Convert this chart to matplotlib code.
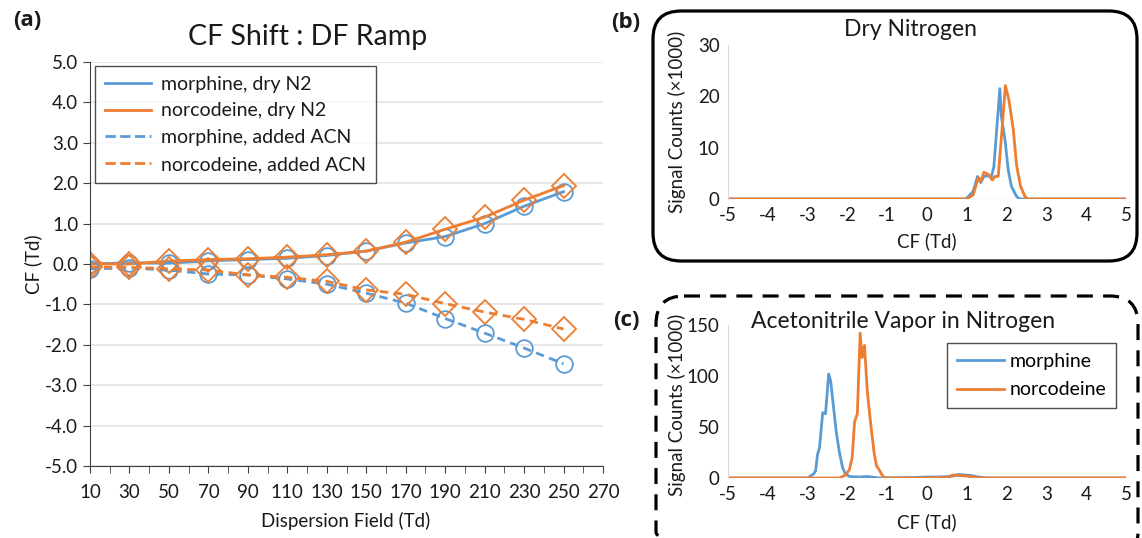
"""
CF shift vs dispersion field ramp (a), plus CF spectra in dry N2 (b)
and with acetonitrile vapor (c).
"""
import numpy as np
import matplotlib.pyplot as plt
from matplotlib.patches import FancyBboxPatch

plt.rcParams["font.family"] = ["Lato", "DejaVu Sans"]
plt.rcParams["axes.unicode_minus"] = False

BLUE = "#5B9BD5"
ORANGE = "#ED7D31"
TXT = "#1a1a1a"

# ---- panel (a) data ----
DF = [10, 30, 50, 70, 90, 110, 130, 150, 170, 190, 210, 230, 250]
MOR_DRY = [0.00, 0.03, 0.02, 0.08, 0.11, 0.14, 0.21, 0.32, 0.52, 0.68, 1.00, 1.43, 1.79]
NOR_DRY = [0.00, 0.00, 0.07, 0.11, 0.13, 0.17, 0.23, 0.32, 0.54, 0.86, 1.16, 1.58, 1.94]
MOR_ACN = [-0.12, -0.10, -0.15, -0.25, -0.27, -0.37, -0.50, -0.72, -0.97, -1.35, -1.71, -2.08, -2.47]
NOR_ACN = [-0.08, -0.08, -0.12, -0.15, -0.27, -0.33, -0.43, -0.64, -0.75, -0.98, -1.19, -1.37, -1.61]

# ---- panel (b) data: dry nitrogen spectra ----
CF_B_MOR = [-5, 0.98, 1.16, 1.27, 1.35, 1.43, 1.54, 1.62, 1.68, 1.75, 1.83,
            1.87, 1.96, 2.04, 2.12, 2.25, 2.33, 5]
SIG_B_MOR = [0, 0, 1.5, 4.4, 3.2, 4.4, 4.5, 4.4, 6.3, 13.4, 21.5,
             16.0, 11.5, 5.7, 2.5, 0.5, 0, 0]
CF_B_NOR = [-5, 1.00, 1.16, 1.29, 1.35, 1.43, 1.54, 1.64, 1.71, 1.79, 1.87,
            1.97, 2.06, 2.17, 2.25, 2.35, 2.46, 2.54, 5]
SIG_B_NOR = [0, 0, 0.8, 4.2, 3.4, 5.2, 4.8, 3.7, 4.4, 4.4, 12.1,
             22.1, 19.2, 13.4, 6.6, 2.5, 0.5, 0, 0]

# ---- panel (c) data: acetonitrile vapor spectra ----
CF_C_MOR = [-5, -3.0, -2.85, -2.8, -2.75, -2.7, -2.62, -2.55, -2.47, -2.42,
            -2.35, -2.28, -2.2, -2.12, -2.05, -1.95, -1.7, -1.5, -1.3, -1.2,
            -0.3, 0.0, 0.3, 0.6, 0.8, 0.95, 1.1, 1.3, 1.5, 5]
SIG_C_MOR = [0, 0, 4, 7, 23, 30, 64, 63, 102, 95,
             70, 45, 25, 10, 4, 1.5, 1, 1.5, 0.5, 0,
             0.5, 1, 1, 1.5, 3.5, 3, 2.5, 1, 0, 0]
CF_C_NOR = [-5, -2.2, -2.05, -1.95, -1.88, -1.82, -1.75, -1.68, -1.63, -1.57,
            -1.5, -1.42, -1.33, -1.27, -1.2, -1.1, -1.0, 0.0, 0.5, 0.65,
            0.8, 1.0, 1.2, 1.4, 5]
SIG_C_NOR = [0, 0, 3, 8, 20, 55, 63, 142, 118, 130,
             85, 55, 25, 12, 8, 1, 0, 0, 0.5, 3,
             2.5, 2, 0.5, 0, 0]

W, H = 1142, 538


def px(x, y):
    return x / W, 1 - y / H


def rect(x0, y0, x1, y1):
    return [x0 / W, 1 - y1 / H, (x1 - x0) / W, (y1 - y0) / H]


def spectrum_axes(fig, box, ymax, ystep):
    ax = fig.add_axes(box)
    ax.set_xlim(-5, 5)
    ax.set_ylim(0, ymax)
    ax.set_xticks(np.arange(-5, 6, 1))
    ax.set_yticks(np.arange(0, ymax + 1, ystep))
    for s in ["top", "right", "bottom"]:
        ax.spines[s].set_visible(False)
    ax.spines["left"].set_color("#d9d9d9")
    ax.axhline(0, color="#d9d9d9", lw=1, zorder=0)
    ax.tick_params(length=0, labelsize=13.5, colors=TXT, pad=6)
    return ax


def main():
    fig = plt.figure(figsize=(W / 100, H / 100), dpi=100)

    # ---------------- (a) ----------------
    ax = fig.add_axes(rect(90, 62, 603, 466))
    ax.set_xlim(10, 270)
    ax.set_ylim(-5, 5)
    ax.set_yticks(np.arange(-5, 5.1, 1))
    ax.set_yticklabels([f"{v:.1f}" for v in np.arange(-5, 5.1, 1)])
    ax.set_xticks(np.arange(10, 271, 20))
    ax.set_xticks(np.arange(20, 270, 20), minor=True)
    ax.grid(axis="y", color="#e3e3e3", lw=1.2)
    ax.set_axisbelow(True)
    for s in ["top", "right"]:
        ax.spines[s].set_visible(False)
    for s in ["left", "bottom"]:
        ax.spines[s].set_color("#404040")
    ax.tick_params(which="both", length=5, color="#404040", labelsize=13.5,
                   colors=TXT)
    ax.tick_params(axis="x", which="major", pad=8)

    mk = dict(markersize=12, markerfacecolor="none", markeredgewidth=1.3)
    ax.plot(DF, MOR_DRY, "-", color=BLUE, lw=2, marker="o", **mk,
            label="morphine, dry N2")
    ax.plot(DF, NOR_DRY, "-", color=ORANGE, lw=2, marker="D", **mk,
            label="norcodeine, dry N2")
    ax.plot(DF, MOR_ACN, color=BLUE, lw=2, ls=(0, (3, 2)), marker="o", **mk,
            label="morphine, added ACN")
    ax.plot(DF, NOR_ACN, color=ORANGE, lw=2, ls=(0, (3, 2)), marker="D", **mk,
            label="norcodeine, added ACN")

    h, l = ax.get_legend_handles_labels()
    proxies = [plt.Line2D([], [], color=x.get_color(), ls=x.get_linestyle(),
                          lw=2) for x in h]
    leg = ax.legend(proxies, l, loc="upper left", bbox_to_anchor=px(95, 66),
                    bbox_transform=fig.transFigure, borderaxespad=0,
                    fontsize=14, frameon=True, fancybox=False,
                    handlelength=2.4, labelspacing=0.5, borderpad=0.5,
                    handletextpad=0.5)
    leg.get_frame().set_edgecolor("#222222")
    leg.get_frame().set_linewidth(1.0)
    for t in leg.get_texts():
        t.set_color(TXT)

    fig.text(*px(308, 37), "CF Shift : DF Ramp", ha="center", va="center",
             fontsize=20.5, color=TXT)
    fig.text(*px(33, 264), "CF (Td)", ha="center", va="center",
             rotation=90, fontsize=13.5, color=TXT)
    fig.text(*px(346, 521), "Dispersion Field (Td)", ha="center",
             va="center", fontsize=13.5, color=TXT)

    # ---------------- (b) ----------------
    axb = spectrum_axes(fig, rect(728, 45, 1126, 199), 30, 10)
    axb.plot(CF_B_MOR, SIG_B_MOR, color=BLUE, lw=2)
    axb.plot(CF_B_NOR, SIG_B_NOR, color=ORANGE, lw=2)
    fig.text(*px(910, 30), "Dry Nitrogen", ha="center", va="center",
             fontsize=16.5, color=TXT)
    fig.text(*px(677, 122), "Signal Counts (\u00d71000)", ha="center",
             va="center", rotation=90, fontsize=13.5, color=TXT)
    fig.text(*px(927, 241), "CF (Td)", ha="center", va="center",
             fontsize=13.5, color=TXT)

    # ---------------- (c) ----------------
    axc = spectrum_axes(fig, rect(728, 325, 1126, 478), 150, 50)
    axc.plot(CF_C_MOR, SIG_C_MOR, color=BLUE, lw=2, label="morphine")
    axc.plot(CF_C_NOR, SIG_C_NOR, color=ORANGE, lw=2, label="norcodeine")
    legc = axc.legend(loc="upper right", bbox_to_anchor=px(1116, 343),
                      bbox_transform=fig.transFigure, borderaxespad=0,
                      fontsize=14, fancybox=False, handlelength=2.4,
                      labelspacing=0.6, borderpad=0.5, handletextpad=0.3)
    legc.get_frame().set_edgecolor("#222222")
    legc.get_frame().set_linewidth(1.0)
    fig.text(*px(903, 322), "Acetonitrile Vapor in Nitrogen", ha="center",
             va="center", fontsize=16.5, color=TXT)
    fig.text(*px(677, 405), "Signal Counts (\u00d71000)", ha="center",
             va="center", rotation=90, fontsize=13.5, color=TXT)
    fig.text(*px(927, 522), "CF (Td)", ha="center", va="center",
             fontsize=13.5, color=TXT)

    # ---------------- frames and panel letters ----------------
    over = fig.add_axes([0, 0, 1, 1], facecolor="none", zorder=-1)
    over.set_xlim(0, W)
    over.set_ylim(H, 0)
    over.axis("off")
    over.add_patch(FancyBboxPatch((653, 11), 1137 - 653, 261 - 11,
                                  boxstyle="round,pad=0,rounding_size=28",
                                  fill=False, ec="black", lw=2.3))
    over.add_patch(FancyBboxPatch((656, 296), 1138 - 656, 560 - 296,
                                  boxstyle="round,pad=0,rounding_size=28",
                                  fill=False, ec="black", lw=2.3,
                                  ls=(0, (5, 3.2))))

    for x, y, s in [(27, 20, "(a)"), (626, 22, "(b)"), (626, 320, "(c)")]:
        fig.text(*px(x, y), s, ha="center", va="center", fontsize=16,
                 fontweight="bold", family=["Open Sans", "DejaVu Sans"],
                 color=TXT)

    fig.savefig("out.png", dpi=100)
    plt.close(fig)


if __name__ == "__main__":
    main()
